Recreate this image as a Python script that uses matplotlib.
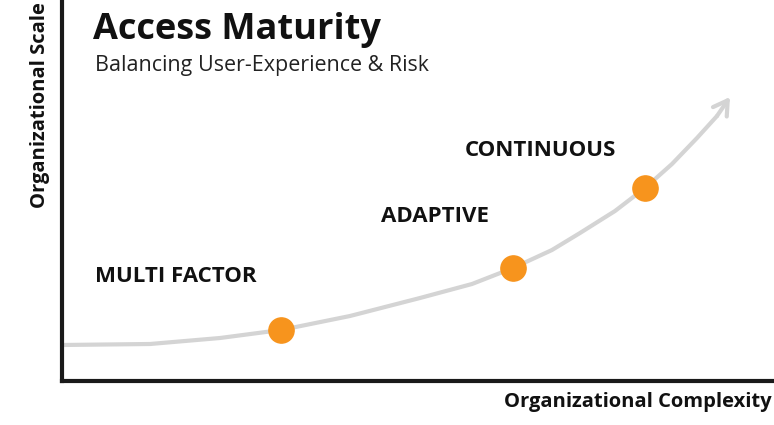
import matplotlib.pyplot as plt

# curve (axes units: x right from left spine, y up from bottom spine)
curve_x = [0, 88, 158, 219, 288, 358, 410, 451, 490, 518, 553, 583, 610, 635, 655]
curve_y = [36, 37, 43, 51, 65, 83, 97, 113, 131, 148, 170, 193, 217, 243, 265]
stage_names = ['MULTI FACTOR', 'ADAPTIVE', 'CONTINUOUS']
stage_x = [219, 451, 583]
stage_y = [51, 113, 193]
label_x = [33, 319, 403]
label_y = [105, 164, 231]

FONT = 'Open Sans'

fig = plt.figure(figsize=(7.74, 4.25), dpi=100)
ax = fig.add_axes([62/774, 44/425, 712/774, 381/425])
ax.set_xlim(0, 712)
ax.set_ylim(0, 381)
for s in ['top', 'right']:
    ax.spines[s].set_visible(False)
for s in ['left', 'bottom']:
    ax.spines[s].set_linewidth(3)
    ax.spines[s].set_color('#1a1a1a')
ax.set_xticks([])
ax.set_yticks([])

ax.plot(curve_x, curve_y, color='#d4d4d4', lw=3, solid_capstyle='round')
ax.annotate('', xy=(668, 284), xytext=(curve_x[-1], curve_y[-1]),
            arrowprops=dict(arrowstyle='->,head_length=1.0,head_width=0.6',
                            color='#d4d4d4', lw=3, shrinkA=0, shrinkB=0))
ax.scatter(stage_x, stage_y, s=330, color='#f7941d', zorder=3)
for name, x, y in zip(stage_names, label_x, label_y):
    ax.text(x, y, name, fontsize=16, fontweight='bold', family=FONT,
            ha='left', va='center', color='#111111')

fig.text(93/774, 1-30/425, 'Access Maturity', fontsize=26, fontweight='bold',
         family=FONT, va='center', color='#111111')
fig.text(95/774, 1-65/425, 'Balancing User-Experience & Risk', fontsize=15.5,
         family=FONT, va='center', color='#222222')
fig.text(40/774, 1-105/425, 'Organizational Scale', fontsize=14.5, fontweight='bold',
         family=FONT, rotation=90, ha='center', va='center', color='#111111')
fig.text(772/774, 1-402/425, 'Organizational Complexity', fontsize=14.5,
         fontweight='bold', family=FONT, ha='right', va='center', color='#111111')

fig.savefig('out.png', dpi=100)
